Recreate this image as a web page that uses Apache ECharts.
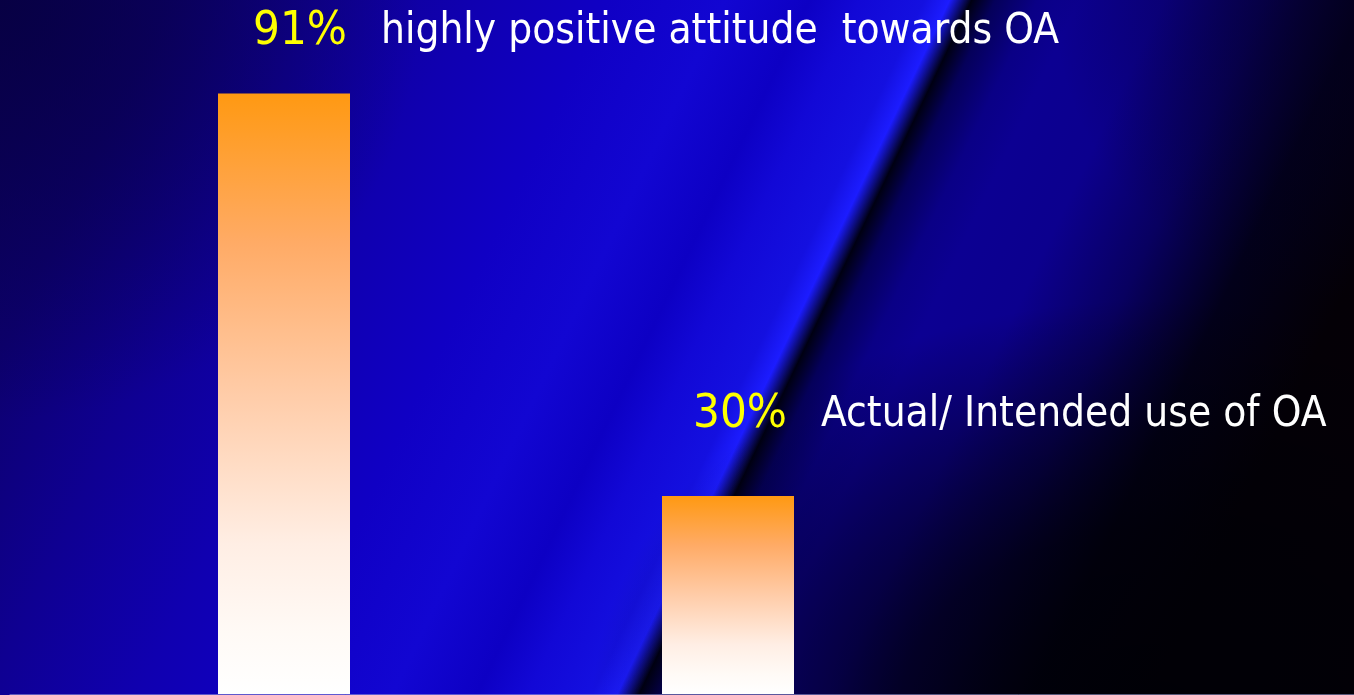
<!DOCTYPE html>
<html>
<head>
<meta charset="utf-8">
<script src="https://cdn.jsdelivr.net/npm/echarts@6/dist/echarts.min.js"></script>
<style>
html,body{margin:0;padding:0;width:1354px;height:695px;overflow:hidden;}
#bg{position:absolute;left:0;top:0;width:1354px;height:695px;
background:
 radial-gradient(ellipse 420px 420px at 0px 0px, rgba(6,0,60,0.75) 0%, rgba(6,0,60,0) 100%),
 radial-gradient(ellipse 560px 420px at 1150px 720px, rgba(0,0,6,0.92) 0%, rgba(0,0,6,0.7) 45%, rgba(0,0,6,0) 100%),
 radial-gradient(ellipse 300px 300px at 1354px 0px, rgba(4,0,30,0.6) 0%, rgba(4,0,30,0) 100%),
 linear-gradient(115.6deg,
   #0b005a 0%,
   #0d0070 10%,
   #0f0092 19%,
   #1000b0 28%,
   #1000c4 36%,
   #1206d2 43%,
   #0d00c4 48%,
   #1208d6 51%,
   #1410e0 54.8%,
   #1c1cff 56.3%,
   #000012 57.6%,
   #05005a 59%,
   #0a0086 61.5%,
   #0c0092 64%,
   #0c008e 69%,
   #080060 75%,
   #02001a 81%,
   #040006 88%,
   #060006 100%);
}
#chart{position:absolute;left:0;top:0;width:1354px;height:695px;}
</style>
</head>
<body>
<div id="bg"></div>
<div id="chart"></div>
<script>
const categories = ['Attitude', 'Use'];
const values = [91, 30];
const descriptions = ['highly positive attitude  towards OA', 'Actual/ Intended use of OA'];

const chart = echarts.init(document.getElementById('chart'), null, {renderer: 'canvas'});

const fontFamily = "'DejaVu Sans Condensed', 'DejaVu Sans', sans-serif";
const shadow = {textShadowColor: '#000000', textShadowOffsetX: 2, textShadowOffsetY: 2, textShadowBlur: 0};
const rich = {
  p: Object.assign({color: '#ffff00', fontSize: 47, fontWeight: 'normal', fontFamily: fontFamily,
                    lineHeight: 50, padding: [0, 10, 0, 0]}, shadow),
  t: Object.assign({color: '#ffffff', fontSize: 42, fontWeight: 'normal', fontFamily: fontFamily,
                    lineHeight: 50}, shadow)
};
const labelPos = [{left: 253, top: 7}, {left: 693, top: 390}];

const titles = values.map((v, i) => ({
  text: '{p|' + v + '%}  {t|' + descriptions[i] + '}',
  left: labelPos[i].left,
  top: labelPos[i].top,
  padding: 0,
  textStyle: {fontWeight: 'normal', fontFamily: fontFamily, fontSize: 42, rich: rich}
}));

chart.setOption({
  backgroundColor: 'transparent',
  animation: false,
  title: titles,
  grid: [
    {left: 62, right: 404, top: 1, bottom: 1, containLabel: false},
    {left: 10, right: 0, top: 1, bottom: 1, containLabel: false}
  ],
  xAxis: [
    {type: 'category', data: categories, gridIndex: 0,
     axisLine: {show: false}, axisTick: {show: false}, axisLabel: {show: false}},
    {type: 'value', gridIndex: 1, min: 0, max: 1,
     axisLine: {show: true, lineStyle: {color: '#a0a0d8', opacity: 0.55, width: 1}},
     axisTick: {show: false}, axisLabel: {show: false}, splitLine: {show: false}}
  ],
  yAxis: [
    {type: 'value', gridIndex: 0, min: 0, max: 105, show: false, splitLine: {show: false}},
    {type: 'value', gridIndex: 1, min: 0, max: 1, show: false, splitLine: {show: false}}
  ],
  series: [{
    type: 'bar',
    xAxisIndex: 0,
    yAxisIndex: 0,
    data: values,
    barWidth: 132,
    itemStyle: {
      color: new echarts.graphic.LinearGradient(0, 0, 0, 1, [
        {offset: 0, color: '#ff9912'},
        {offset: 0.25, color: '#ffab66'},
        {offset: 0.5, color: '#ffcca8'},
        {offset: 0.75, color: '#ffeee4'},
        {offset: 0.9, color: '#fffaf6'},
        {offset: 1, color: '#ffffff'}
      ])
    }
  }]
});
</script>
</body>
</html>
